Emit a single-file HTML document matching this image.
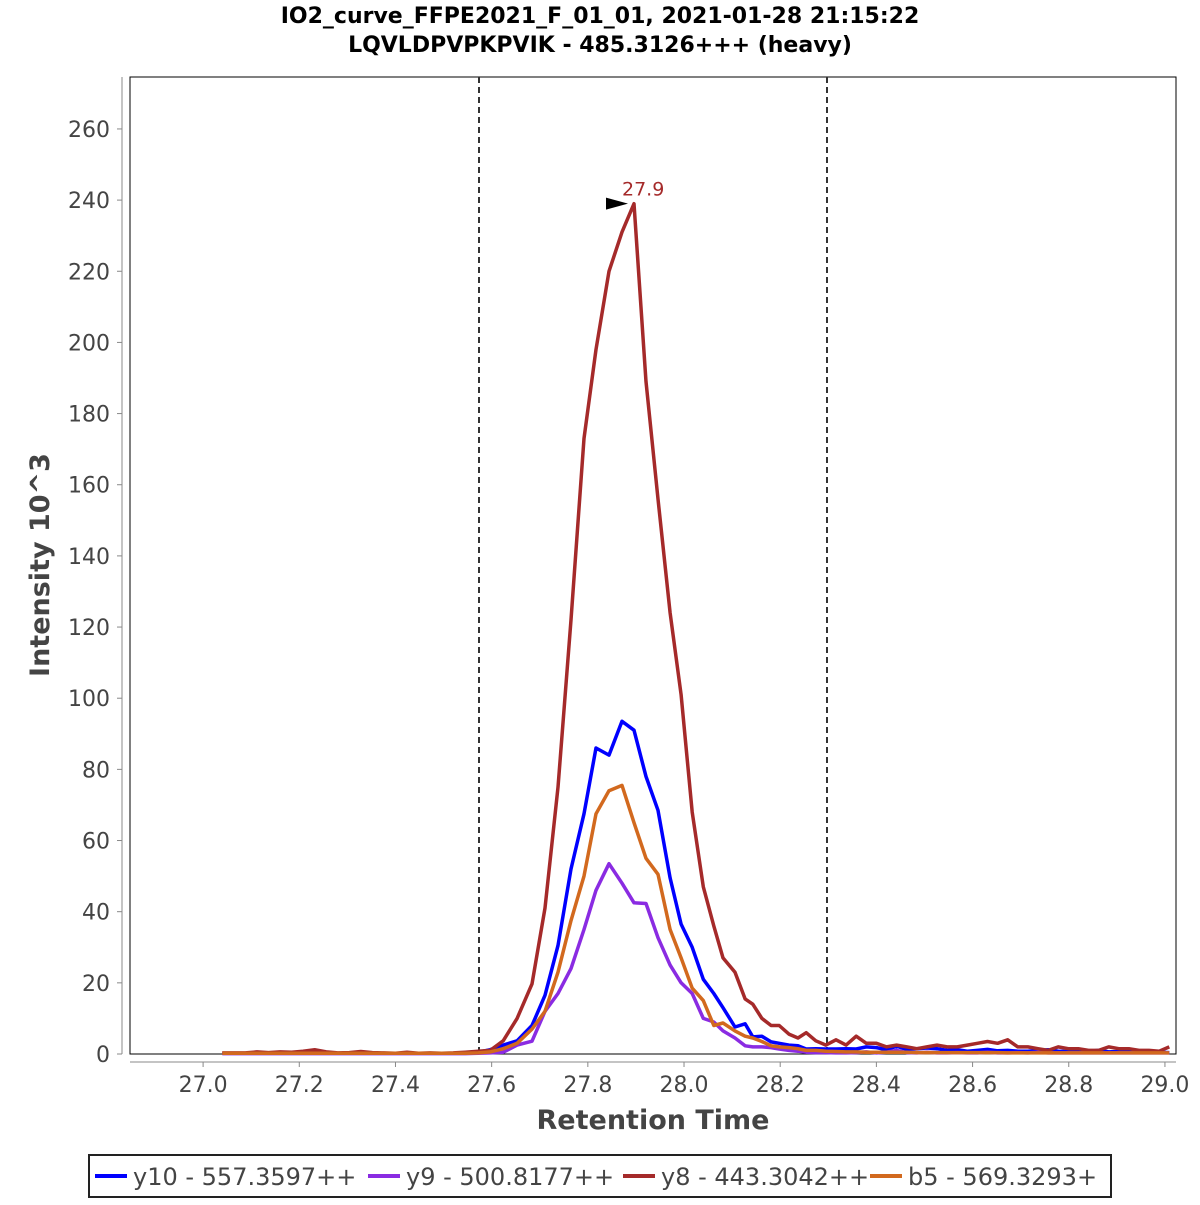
<!DOCTYPE html>
<html><head><meta charset="utf-8"><style>
body{margin:0;background:#fff;width:1200px;height:1200px;overflow:hidden;font-family:"Liberation Sans","DejaVu Sans",sans-serif}
</style></head><body>
<svg id="chart" width="1200" height="1200" xmlns="http://www.w3.org/2000/svg" font-family="DejaVu Sans, Liberation Sans, sans-serif">
<rect width="1200" height="1200" fill="#fff"/>
<text x="600" y="23" text-anchor="middle" font-size="22" font-weight="bold" fill="#000">IO2_curve_FFPE2021_F_01_01, 2021-01-28 21:15:22</text>
<text x="600" y="52" text-anchor="middle" font-size="22" font-weight="bold" fill="#000">LQVLDPVPKPVIK - 485.3126+++ (heavy)</text>
<rect x="130" y="77" width="1046" height="977" fill="#fff" stroke="#000" stroke-width="1"/>
<line x1="122" y1="77" x2="122" y2="1054" stroke="#888" stroke-width="1"/>
<line x1="130" y1="1062" x2="1176" y2="1062" stroke="#888" stroke-width="1"/>
<g id="yticks"></g><g id="xticks"></g>
<text transform="translate(49,565) rotate(-90)" text-anchor="middle" font-size="27" font-weight="bold" fill="#444">Intensity 10^3</text>
<text x="653" y="1129" text-anchor="middle" font-size="27" font-weight="bold" fill="#444">Retention Time</text>
<line x1="479" y1="77" x2="479" y2="1054" stroke="#333" stroke-width="2" stroke-dasharray="6,4"/>
<line x1="827" y1="77" x2="827" y2="1054" stroke="#333" stroke-width="2" stroke-dasharray="6,4"/>
<g id="series"></g>
<g id="annot"></g>
<rect x="89" y="1155" width="1022" height="42" fill="#fff" stroke="#222" stroke-width="2"/>
<g id="legend"></g>
</svg>
<script>
const times=[27.04,27.064,27.088,27.112,27.136,27.16,27.184,27.208,27.232,27.256,27.28,27.304,27.328,27.352,27.376,27.4,27.424,27.448,27.472,27.496,27.52,
27.545,27.572,27.597,27.624,27.653,27.684,27.711,27.738,27.765,27.792,27.817,27.844,27.871,27.896,27.921,27.946,27.971,27.994,28.017,28.04,28.062,28.081,28.106,28.127,28.143,28.162,28.181,28.198,28.218,28.237,28.254,28.274,28.295,28.316,
28.337,28.358,28.379,28.4,28.421,28.442,28.463,28.484,28.505,28.526,28.547,28.568,28.589,28.61,28.631,28.652,28.673,28.694,28.715,28.736,28.757,28.778,28.799,28.82,28.841,28.862,28.883,28.904,28.925,28.946,28.967,28.988,29.009];
const y10=[0.2,0.2,0.2,0.2,0.2,0.2,0.2,0.2,0.2,0.2,0.2,0.2,0.2,0.2,0.2,0.2,0.2,0.2,0.2,0.2,0.2,
0.3,0.5,1.2,2.5,3.7,8,16.5,30.5,52,67.5,86,84,93.5,91,78,68.5,49.5,36.5,30,21,17,13,7.6,8.5,4.8,5,3.4,3,2.5,2.3,1.4,1.5,1.4,1.4,
1.5,1.4,2,1.8,1.2,2.2,1.3,1.5,1.7,1.5,1,1.2,0.8,1,1.3,0.9,1,0.8,0.8,1,1.2,0.8,0.7,0.9,0.8,1,0.6,0.7,0.5,0.6,0.7,0.5,0.4];
const y9=[0.1,0.1,0.1,0.1,0.1,0.1,0.1,0.1,0.1,0.1,0.1,0.1,0.1,0.1,0.1,0.1,0.1,0.1,0.1,0.1,0.1,
0.1,0.2,0.3,0.5,2.5,3.6,12,17,24,35,46,53.5,48,42.5,42.3,32.7,25,20,17,10,9,6.5,4.5,2.3,2,2,1.8,1.4,1,0.8,0.5,0.4,0.4,0.3,
0.3,0.4,0.6,0.3,0.5,1,0.4,0.3,0.5,0.3,0.3,0.4,0.3,0.3,0.5,0.3,0.3,0.4,0.3,0.5,0.3,0.3,0.3,0.3,0.3,0.3,0.3,0.3,0.3,0.3,0.3,0.3,0.3];
const y8=[0.3,0.3,0.3,0.6,0.4,0.6,0.5,0.8,1.2,0.6,0.3,0.4,0.7,0.4,0.3,0.2,0.5,0.2,0.3,0.2,0.3,
0.5,0.8,1,3.7,10,19.7,41,75,122,173,198,220,231,239,189,156,124,101,68,47,36,27,23,15.5,14,10,8,8,5.6,4.5,6,3.7,2.5,4,
2.5,5,3,3,2,2.5,2,1.5,2,2.5,2,2,2.5,3,3.5,3,4,2,2,1.5,1,2,1.5,1.5,1,1,2,1.5,1.5,1,1,0.8,2];
const b5=[0.2,0.2,0.2,0.2,0.2,0.2,0.2,0.2,0.2,0.2,0.2,0.2,0.2,0.2,0.2,0.2,0.2,0.2,0.2,0.2,0.2,
0.2,0.3,0.6,1.5,3,7,12,23,37.5,50,67.5,74,75.5,65,55,50.5,35,27,18.5,15,8,8.7,6.5,5,4.5,3.5,2.3,2,1.8,1.5,1,1,0.8,0.7,
0.6,0.6,0.5,0.5,0.5,0.5,0.5,0.4,0.4,0.4,0.4,0.4,0.4,0.4,0.4,0.4,0.3,0.3,0.3,0.3,0.3,0.3,0.3,0.3,0.3,0.3,0.3,0.3,0.3,0.3,0.3,0.3,0.3];
const yTicks=[0,20,40,60,80,100,120,140,160,180,200,220,240,260];
const xTicks=[27.0,27.2,27.4,27.6,27.8,28.0,28.2,28.4,28.6,28.8,29.0];
const seriesNames=["y10 - 557.3597++","y9 - 500.8177++","y8 - 443.3042++","b5 - 569.3293+"];
const seriesColors=["#0000ff","#8a2be2","#a52a2a","#d2691e"];
const seriesData=[y10,y9,y8,b5];
const peakTime=27.896, peakValue=239, peakLabel="27.9";

const NS="http://www.w3.org/2000/svg";
const X0=130,X1=1176,Y0=1054,Y1=77;
const xMin=26.848,xMax=29.023,yMin=0,yMax=274.6;
function sx(t){return X0+(t-xMin)/(xMax-xMin)*(X1-X0);}
function sy(v){return Y0-(v-yMin)/(yMax-yMin)*(Y0-Y1);}
function mk(tag,attrs,parent){const e=document.createElementNS(NS,tag);for(const k in attrs)e.setAttribute(k,attrs[k]);parent.appendChild(e);return e;}

const yg=document.getElementById('yticks');
yTicks.forEach(v=>{
  const l=mk('line',{x1:117,x2:122,y1:sy(v),y2:sy(v),stroke:'#888'},yg);
  
  
  const t=mk('text',{x:110,y:sy(v)+8,'text-anchor':'end','font-size':22,fill:'#444'},yg);
  t.textContent=String(v);
  
  
});
const xg=document.getElementById('xticks');
xTicks.forEach(v=>{
  const l=mk('line',{x1:sx(v),x2:sx(v),y1:1062,y2:1067,stroke:'#888'},xg);
  
  
  const t=mk('text',{x:sx(v),y:1092,'text-anchor':'middle','font-size':22,fill:'#444'},xg);
  t.textContent=v.toFixed(1);
  
  
});
const sg=document.getElementById('series');
seriesData.forEach((d,i)=>{
  const pts=d.map((v,j)=>sx(times[j]).toFixed(1)+','+sy(v).toFixed(1)).join(' ');
  const p=mk('polyline',{points:pts,fill:'none',stroke:seriesColors[i],'stroke-width':3.5,'stroke-linejoin':'round'},sg);
  
  
});
const ag=document.getElementById('annot');
const px=sx(peakTime),py=sy(peakValue);
const arr=mk('polygon',{points:(px-28)+','+(py-6)+' '+(px-6)+','+py+' '+(px-28)+','+(py+6),fill:'#000'},ag);


const pl=mk('text',{x:px-12,y:py-8,'font-size':19,fill:'#a52a2a'},ag);
pl.textContent=peakLabel;


const lg=document.getElementById('legend');
const lx=[95,368,623,870];
seriesNames.forEach((n,i)=>{
  const l=mk('line',{x1:lx[i],x2:lx[i]+32,y1:1176,y2:1176,stroke:seriesColors[i],'stroke-width':4},lg);
  
  
  const t=mk('text',{x:lx[i]+38,y:1185,'font-size':24,fill:'#444'},lg);
  t.textContent=n;
  
  
});
</script>
</body></html>
